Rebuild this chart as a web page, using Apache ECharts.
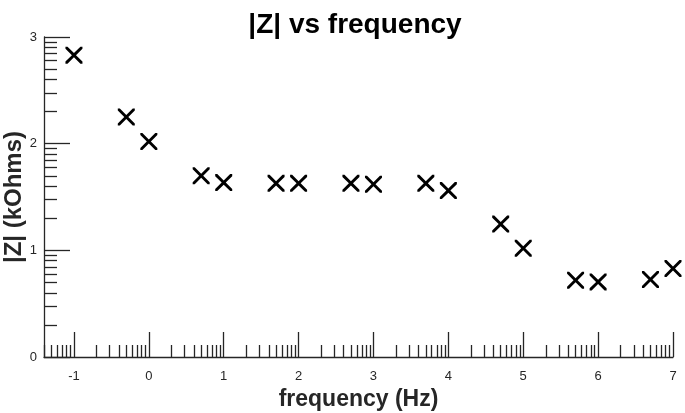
<!DOCTYPE html>
<html>
<head>
<meta charset="utf-8">
<script src="https://cdn.jsdelivr.net/npm/echarts@6/dist/echarts.min.js"></script>
<style>
  html, body { margin: 0; padding: 0; background: #fff; }
  #chart { width: 685px; height: 413px; }
</style>
</head>
<body>
<div id="chart"></div>
<script>
// log10 of frequency (Hz) and log10 of |Z|
var freqLog = [-1, -0.301, 0, 0.699, 1, 1.699, 2, 2.699, 3, 3.699, 4, 4.699, 5, 5.699, 6, 6.699, 7];
var zLog = [2.83, 2.25, 2.02, 1.70, 1.635, 1.628, 1.628, 1.628, 1.62, 1.628, 1.56, 1.246, 1.02, 0.72, 0.704, 0.727, 0.83];

var xTicks = [-1, 0, 1, 2, 3, 4, 5, 6, 7];
var yTicks = [0, 1, 2, 3];
var xMin = -1.4, xMax = 7;
var yMin = 0, yMax = 3;

// minor ticks at decade + log10(2..9), like a log axis
function minorTicks(lo, hi) {
  var out = [];
  for (var d = Math.floor(lo) - 1; d <= Math.ceil(hi); d++) {
    for (var k = 2; k <= 9; k++) {
      var v = d + Math.log10(k);
      if (v > lo && v < hi) out.push(v);
    }
  }
  return out;
}

var pts = [];
for (var i = 0; i < freqLog.length; i++) pts.push([freqLog[i], zLog[i]]);

var font = 'Liberation Sans, Arial, Helvetica, sans-serif';
var axisCol = '#262626';
var crossPath = 'path://M0,0 L2.4,0 L10,7.6 L17.6,0 L20,0 L20,2.4 L12.4,10 L20,17.6 L20,20 L17.6,20 L10,12.4 L2.4,20 L0,20 L0,17.6 L7.6,10 L0,2.4 Z';

var myChart = echarts.init(document.getElementById('chart'));
myChart.setOption({
  animation: false,
  title: {
    text: '|Z| vs frequency',
    left: 350,
    textAlign: 'center',
    top: 6,
    textStyle: { fontFamily: font, fontSize: 28, fontWeight: 'bold', color: '#000' }
  },
  grid: { left: 44, right: 12, top: 37, bottom: 56, outerBoundsMode: 'none' },
  xAxis: [
    {
      type: 'value', min: xMin, max: xMax,
      name: 'frequency (Hz)', nameLocation: 'middle', nameGap: 30,
      nameTextStyle: { fontFamily: font, fontSize: 23, fontWeight: 'bold', color: '#262626' },
      axisLine: { show: true, onZero: false, lineStyle: { color: axisCol, width: 1.3 } },
      axisTick: { show: true, inside: true, length: 25, customValues: xTicks, lineStyle: { color: axisCol, width: 1.3 } },
      axisLabel: { customValues: xTicks, margin: 13, fontFamily: font, fontSize: 13, color: '#262626' },
      splitLine: { show: false }
    },
    {
      type: 'value', min: xMin, max: xMax, position: 'bottom',
      axisLine: { show: false, onZero: false },
      axisTick: { show: true, inside: true, length: 12, customValues: minorTicks(xMin, xMax), lineStyle: { color: axisCol, width: 1.3 } },
      axisLabel: { show: false },
      splitLine: { show: false }
    }
  ],
  yAxis: [
    {
      type: 'value', min: yMin, max: yMax,
      name: '|Z| (kOhms)', nameLocation: 'middle', nameGap: 18, nameMoveOverlap: false,
      nameTextStyle: { fontFamily: font, fontSize: 24, fontWeight: 'bold', color: '#262626' },
      axisLine: { show: true, onZero: false, lineStyle: { color: axisCol, width: 1.3 } },
      axisTick: { show: true, inside: true, length: 26, customValues: yTicks, lineStyle: { color: axisCol, width: 1.3 } },
      axisLabel: { customValues: yTicks, margin: 7, fontFamily: font, fontSize: 13, color: '#262626' },
      splitLine: { show: false }
    },
    {
      type: 'value', min: yMin, max: yMax, position: 'left',
      axisLine: { show: false, onZero: false },
      axisTick: { show: true, inside: true, length: 13, customValues: minorTicks(yMin, yMax), lineStyle: { color: axisCol, width: 1.3 } },
      axisLabel: { show: false },
      splitLine: { show: false }
    }
  ],
  series: [
    {
      type: 'scatter',
      data: pts,
      symbol: crossPath,
      symbolSize: 17,
      itemStyle: { color: '#000', opacity: 1 }
    }
  ]
});
window.onresize = myChart.resize;
</script>
</body>
</html>
